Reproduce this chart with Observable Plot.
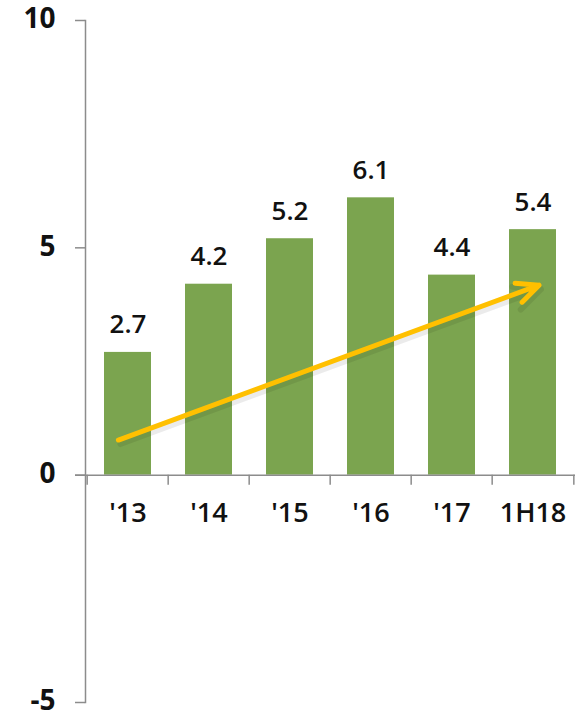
<!DOCTYPE html>
<html>
<head>
<meta charset="utf-8">
<script src="https://cdn.jsdelivr.net/npm/d3@7"></script>
<script src="https://cdn.jsdelivr.net/npm/@observablehq/plot@0.6"></script>
<style>
  html, body { margin: 0; padding: 0; background: #fff; }
  #chart svg { display: block; }
</style>
</head>
<body>
<div id="chart"></div>
<script>
const categories = ["'13", "'14", "'15", "'16", "'17", "1H18"];
const values = [2.7, 4.2, 5.2, 6.1, 4.4, 5.4];
const labels = ["2.7", "4.2", "5.2", "6.1", "4.4", "5.4"];
const yTicks = [-5, 0, 5, 10];
// trend arrow
const arrowFrom = {x: "'13", y: 0.85};
const arrowTo = {x: "1H18", y: 4.13};

const bars = categories.map((c, i) => ({cat: c, value: values[i], label: labels[i]}));
const arrowData = [{x1: arrowFrom.x, y1: arrowFrom.y, x2: arrowTo.x, y2: arrowTo.y}];

const W = 582, H = 717;
const mL = 85, mR = 7, mT = 20, mB = 15;
const step = (W - mL - mR) / categories.length;
const font = "'Open Sans', 'DejaVu Sans', sans-serif";
const axisColor = "#8c8c8c";

const chart = Plot.plot({
  width: W,
  height: H,
  marginLeft: mL,
  marginRight: mR,
  marginTop: mT,
  marginBottom: mB,
  style: {fontFamily: font, background: "#fff"},
  x: {domain: categories, paddingInner: 0.42, paddingOuter: 0.21, axis: null},
  y: {domain: [-5, 10], axis: null},
  marks: [
    Plot.barY(bars, {x: "cat", y: "value", fill: "#7ba44f"}),
    // axes lines
    Plot.frame({anchor: "left", stroke: axisColor, strokeWidth: 1.5}),
    Plot.ruleY([0], {stroke: axisColor, strokeWidth: 1.5, insetLeft: -10}),
    // y axis ticks
    Plot.axisY({
      ticks: yTicks, tickSize: 10, text: null,
      stroke: axisColor, strokeWidth: 1.5
    }),
    // y axis labels
    Plot.axisY({
      ticks: yTicks, tickSize: 0, tickPadding: 30, tickFormat: d => String(d),
      fill: "#111", fontSize: 28, fontWeight: 700, dy: -1
    }),
    // x boundary ticks
    Plot.ruleX(categories, {x: d => d, y1: 0, y2: -0.22, dx: -step / 2, stroke: axisColor, strokeWidth: 1.5}),
    Plot.ruleX([categories[categories.length - 1]], {x: d => d, y1: 0, y2: -0.22, dx: step / 2, stroke: axisColor, strokeWidth: 1.5}),
    // x labels
    Plot.text(categories, {x: d => d, y: 0, text: d => d, dy: 38, fontSize: 27, fontWeight: 600, fill: "#111"}),
    // value labels
    Plot.text(bars, {x: "cat", y: "value", text: "label", dy: -19, lineAnchor: "bottom", fontSize: 26, fontWeight: 600, fill: "#111"}),
    // arrow shadow
    Plot.arrow(arrowData, {
      x1: "x1", y1: "y1", x2: "x2", y2: "y2", stroke: "#000", strokeOpacity: 0.08,
      strokeWidth: 6, headLength: 7.2, headAngle: 50, insetStart: -10.2, insetEnd: -6.4, dx: 2, dy: 4
    }),
    Plot.arrow(arrowData, {
      x1: "x1", y1: "y1", x2: "x2", y2: "y2", stroke: "#ffc000",
      strokeWidth: 5, headLength: 7.2, headAngle: 50, insetStart: -10.2, insetEnd: -6.4
    })
  ]
});
document.getElementById("chart").appendChild(chart);
</script>
</body>
</html>
